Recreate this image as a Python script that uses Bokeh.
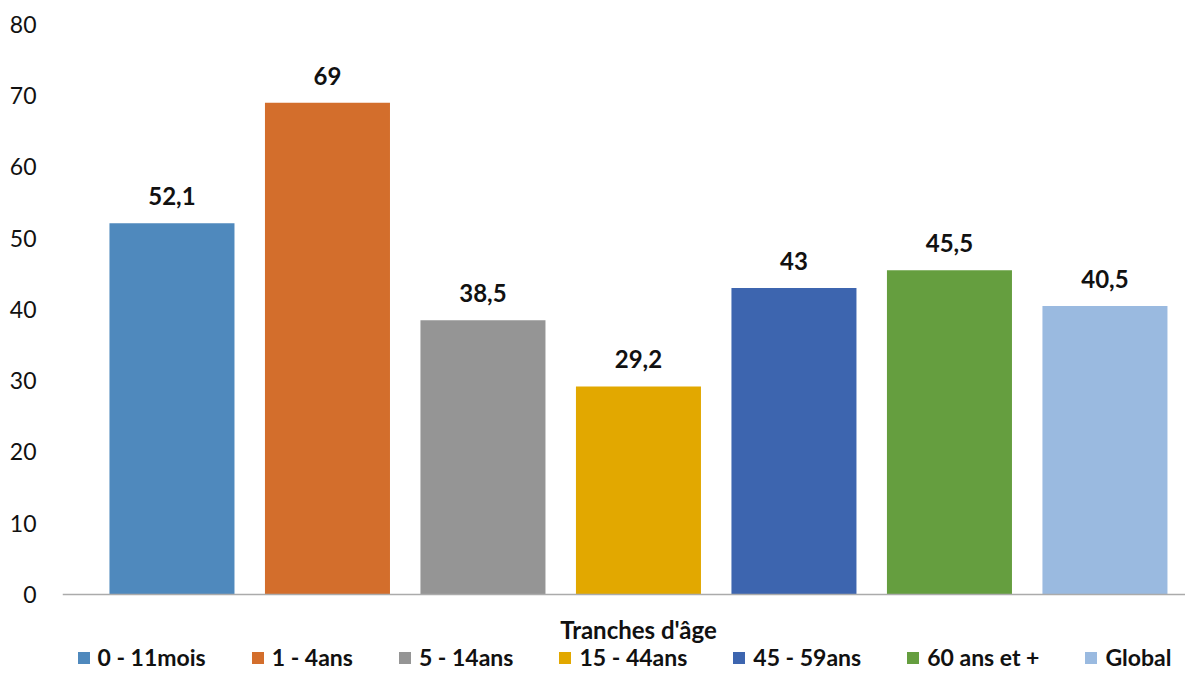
from bokeh.plotting import figure
from bokeh.models import Range1d, Legend, LegendItem, ColumnDataSource, FixedTicker, Span, Label
from bokeh.embed import file_html
from bokeh.resources import INLINE
from bokeh.core.properties import value

categories = ["0 - 11mois", "1 - 4ans", "5 - 14ans", "15 - 44ans", "45 - 59ans", "60 ans et +", "Global"]
values = [52.1, 69, 38.5, 29.2, 43, 45.5, 40.5]
value_labels = ["52,1", "69", "38,5", "29,2", "43", "45,5", "40,5"]
colors = ["#4F89BD", "#D36E2C", "#959595", "#E2A800", "#3D65AF", "#659E3F", "#9ABAE0"]
y_ticks = [0, 10, 20, 30, 40, 50, 60, 70, 80]
x_title = "Tranches d'âge"

FONT = "Lato"
TEXT = "#111111"

n = len(categories)
xs = [i + 0.5 for i in range(n)]
src = ColumnDataSource(dict(x=xs, top=values, label=value_labels, color=colors, cat=categories))

# frame extends below 0 so that the axis title and legend sit inside it
p = figure(x_range=Range1d(-0.204, 7.018), y_range=Range1d(-10.81, 80),
           width=1185, height=671,
           output_backend="svg", toolbar_location=None, x_axis_location=None,
           min_border_left=62, min_border_right=0, min_border_top=24, min_border_bottom=0)

bars = p.vbar(x="x", top="top", width=0.804, fill_color="color", line_color=None, source=src)
p.text(x="x", y="top", text="label", source=src, text_align="center", text_baseline="middle",
       y_offset=-27, text_font=value(FONT), text_font_style="bold", text_font_size="24px",
       text_color=TEXT)

p.add_layout(Span(location=0, dimension="width", line_color="#ABABAB", line_width=1.5))

p.xgrid.visible = False
p.ygrid.visible = False
p.outline_line_color = None

ya = p.yaxis[0]
ya.ticker = FixedTicker(ticks=y_ticks)
ya.axis_line_color = None
ya.major_tick_line_color = None
ya.minor_tick_line_color = None
ya.major_label_text_font = FONT
ya.major_label_text_font_size = "23px"
ya.major_label_text_color = TEXT
ya.major_label_standoff = 20

p.add_layout(Label(x=n / 2, y=-4.9, text=x_title, text_align="center", text_baseline="middle",
                   text_font=FONT, text_font_style="bold", text_font_size="24px",
                   text_color=TEXT))

items = [LegendItem(label=c, renderers=[bars], index=i) for i, c in enumerate(categories)]
legend = Legend(items=items, orientation="horizontal", location="bottom_center",
                glyph_width=15, glyph_height=15, label_standoff=7, spacing=44,
                label_text_font=FONT, label_text_font_style="bold", label_text_font_size="23px",
                label_text_color=TEXT, border_line_color=None, background_fill_color=None,
                padding=0, margin=0, label_height=24)
p.add_layout(legend, "center")

open("out.html", "w").write(file_html(p, INLINE))
